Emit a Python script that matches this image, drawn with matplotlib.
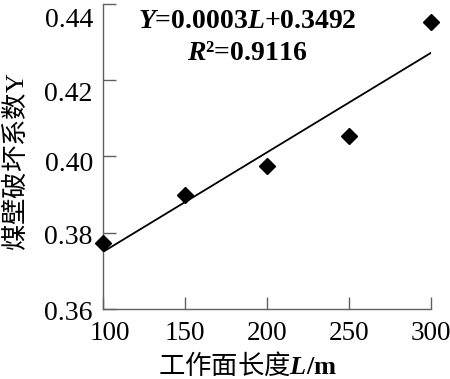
import matplotlib
matplotlib.use("Agg")
import matplotlib.pyplot as plt
import matplotlib.transforms as mtransforms

# data
length_m = [100, 150, 200, 250, 300]
damage_coef = [0.3772, 0.3900, 0.3974, 0.4053, 0.4353]
fit_x = [100, 300]
fit_y = [0.3749, 0.4272]
x_ticks = [100, 150, 200, 250, 300]
y_ticks = [0.36, 0.38, 0.40, 0.42, 0.44]
y_tick_labels = ['0.36', '0.38', '0.40', '0.42', '0.44']

plt.rcParams['font.family'] = ['Liberation Serif', 'DejaVu Serif']
plt.rcParams['mathtext.fontset'] = 'custom'
plt.rcParams['mathtext.rm'] = 'Liberation Serif'
plt.rcParams['mathtext.it'] = 'Liberation Serif:italic:bold'
plt.rcParams['mathtext.bf'] = 'Liberation Serif:bold'

fig = plt.figure(figsize=(4.5, 3.79), dpi=100)
ax = fig.add_axes([102.5 / 450, 1 - 309 / 379, 328.5 / 450, 305 / 379])

ax.plot(fit_x, fit_y, color='black', lw=1.3, zorder=2)
ax.plot(length_m, damage_coef, linestyle='none', marker='D', ms=8.5,
        color='black', zorder=3, clip_on=False)

ax.set_xlim(100, 300)
ax.set_ylim(0.36, 0.44)
ax.set_xticks(x_ticks)
ax.set_yticks(y_ticks)
ax.set_yticklabels(y_tick_labels)

for s in ['top', 'right']:
    ax.spines[s].set_visible(False)
for s in ['left', 'bottom']:
    ax.spines[s].set_color('#606060')
    ax.spines[s].set_linewidth(1.0)

ax.tick_params(direction='in', length=9, width=1.0, color='#606060', pad=7)
ax.tick_params(axis='y', labelsize=20)
ax.tick_params(axis='x', labelsize=19.5, pad=9)

# the reference's tick labels sit a little off their ticks
y_shift_px = [-2, -2, -5, -11, -4]
for lab, dy in zip(ax.get_yticklabels(), y_shift_px):
    off = mtransforms.ScaledTranslation(0, dy / 100, fig.dpi_scale_trans)
    lab.set_transform(lab.get_transform() + off)
ax.get_yticklabels()[-1].set_va('top')
first = ax.get_xticklabels()[0]
first.set_transform(first.get_transform() +
                    mtransforms.ScaledTranslation(7 / 100, 0, fig.dpi_scale_trans))

ax.text(0.44, 0.941, r'$\mathit{Y}$=0.0003$\mathit{L}$+0.3492',
        transform=ax.transAxes, ha='center', va='center',
        fontsize=20, fontweight='bold')
ax.text(0.44, 0.839, r'$\mathit{R}$²=0.9116',
        transform=ax.transAxes, ha='center', va='center',
        fontsize=20, fontweight='bold')

fig.text(16 / 450, 1 - 162 / 379, r'煤壁破坏系数$\mathrm{Y}$', rotation=90,
         ha='center', va='center', fontsize=19,
         family=['Noto Sans CJK SC', 'DejaVu Sans'])
fig.text(247 / 450, 1 - 366 / 379, r'工作面长度$\mathit{L}\mathbf{/m}$',
         ha='center', va='center', fontsize=19, fontweight='medium',
         family=['Noto Sans CJK SC', 'DejaVu Sans'])

fig.savefig('out.png', dpi=100)
